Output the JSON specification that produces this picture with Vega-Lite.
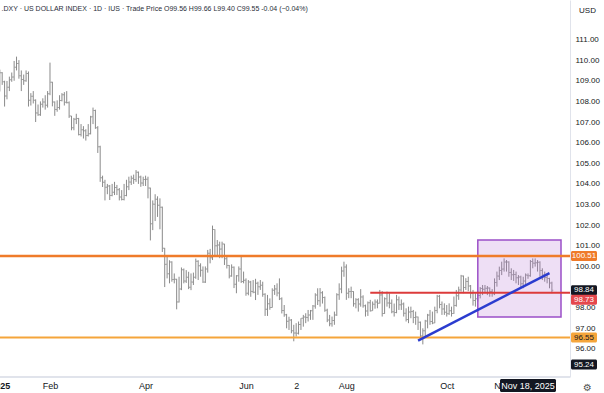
{
"$schema":"https://vega.github.io/schema/vega-lite/v6.json",
"width":570,"height":377,
"autosize":{"type":"none"},
"padding":{"left":0,"top":0,"right":34,"bottom":16},
"background":"#ffffff",
"config":{"view":{"stroke":null},"font":"Liberation Sans","axisY":{"labelOverlap":false}},
"title":{"text":".DXY · US DOLLAR INDEX · 1D · IUS  · Trade Price   O99.56  H99.66  L99.40  C99.55  -0.04 (−0.04%)","anchor":"start","frame":"group","offset":-12,"fontSize":7,"fontWeight":"normal","color":"#2a2e39","font":"Liberation Sans","dx":1.5},
"resolve":{"axis":{"x":"independent","y":"independent"}},
"data":{"values":[
{"d":"2025-01-02","o":108.49,"h":109.54,"l":108.48,"c":109.39},
{"d":"2025-01-03","o":109.39,"h":109.42,"l":108.80,"c":108.95},
{"d":"2025-01-06","o":108.95,"h":109.00,"l":107.75,"c":108.26},
{"d":"2025-01-07","o":108.26,"h":108.99,"l":108.10,"c":108.69},
{"d":"2025-01-08","o":108.69,"h":109.20,"l":108.50,"c":109.05},
{"d":"2025-01-09","o":109.05,"h":109.40,"l":108.95,"c":109.18},
{"d":"2025-01-10","o":109.18,"h":109.96,"l":109.00,"c":109.65},
{"d":"2025-01-13","o":109.65,"h":110.17,"l":109.50,"c":109.84},
{"d":"2025-01-14","o":109.84,"h":110.00,"l":109.10,"c":109.24},
{"d":"2025-01-15","o":109.24,"h":109.50,"l":108.50,"c":109.06},
{"d":"2025-01-16","o":109.06,"h":109.30,"l":108.80,"c":109.00},
{"d":"2025-01-17","o":109.00,"h":109.50,"l":108.95,"c":109.35},
{"d":"2025-01-21","o":109.35,"h":109.45,"l":107.75,"c":108.06},
{"d":"2025-01-22","o":108.06,"h":108.40,"l":107.80,"c":108.25},
{"d":"2025-01-23","o":108.25,"h":108.50,"l":107.90,"c":108.05},
{"d":"2025-01-24","o":108.05,"h":108.10,"l":107.00,"c":107.44},
{"d":"2025-01-27","o":107.44,"h":107.85,"l":107.30,"c":107.35},
{"d":"2025-01-28","o":107.35,"h":108.00,"l":107.30,"c":107.86},
{"d":"2025-01-29","o":107.86,"h":108.15,"l":107.70,"c":107.97},
{"d":"2025-01-30","o":107.97,"h":108.30,"l":107.60,"c":107.81},
{"d":"2025-01-31","o":107.81,"h":108.50,"l":107.70,"c":108.37},
{"d":"2025-02-03","o":108.37,"h":109.88,"l":108.30,"c":108.93},
{"d":"2025-02-04","o":108.93,"h":108.95,"l":107.76,"c":107.97},
{"d":"2025-02-05","o":107.97,"h":108.00,"l":107.30,"c":107.61},
{"d":"2025-02-06","o":107.61,"h":108.05,"l":107.50,"c":107.71},
{"d":"2025-02-07","o":107.71,"h":108.30,"l":107.60,"c":108.04},
{"d":"2025-02-10","o":108.04,"h":108.40,"l":108.00,"c":108.32},
{"d":"2025-02-11","o":108.32,"h":108.45,"l":107.80,"c":107.96},
{"d":"2025-02-12","o":107.96,"h":108.50,"l":107.90,"c":107.94},
{"d":"2025-02-13","o":107.94,"h":108.00,"l":107.20,"c":107.29},
{"d":"2025-02-14","o":107.29,"h":107.30,"l":106.60,"c":106.72},
{"d":"2025-02-18","o":106.72,"h":107.20,"l":106.60,"c":107.14},
{"d":"2025-02-19","o":107.14,"h":107.40,"l":106.90,"c":107.17},
{"d":"2025-02-20","o":107.17,"h":107.20,"l":106.35,"c":106.39},
{"d":"2025-02-21","o":106.39,"h":106.90,"l":106.30,"c":106.63},
{"d":"2025-02-24","o":106.63,"h":106.80,"l":106.20,"c":106.58},
{"d":"2025-02-25","o":106.58,"h":106.65,"l":106.10,"c":106.35},
{"d":"2025-02-26","o":106.35,"h":106.90,"l":106.30,"c":106.43},
{"d":"2025-02-27","o":106.43,"h":107.30,"l":106.40,"c":107.25},
{"d":"2025-02-28","o":107.25,"h":107.70,"l":106.90,"c":107.56},
{"d":"2025-03-03","o":107.56,"h":107.60,"l":106.67,"c":106.72},
{"d":"2025-03-04","o":106.72,"h":106.80,"l":105.50,"c":105.80},
{"d":"2025-03-05","o":105.80,"h":105.85,"l":104.10,"c":104.30},
{"d":"2025-03-06","o":104.30,"h":104.40,"l":103.85,"c":104.08},
{"d":"2025-03-07","o":104.08,"h":104.20,"l":103.20,"c":103.84},
{"d":"2025-03-10","o":103.84,"h":104.00,"l":103.50,"c":103.90},
{"d":"2025-03-11","o":103.90,"h":103.95,"l":103.22,"c":103.44},
{"d":"2025-03-12","o":103.44,"h":104.00,"l":103.40,"c":103.60},
{"d":"2025-03-13","o":103.60,"h":104.10,"l":103.46,"c":103.83},
{"d":"2025-03-14","o":103.83,"h":103.95,"l":103.46,"c":103.72},
{"d":"2025-03-17","o":103.72,"h":103.80,"l":103.20,"c":103.37},
{"d":"2025-03-18","o":103.37,"h":103.70,"l":103.20,"c":103.25},
{"d":"2025-03-19","o":103.25,"h":104.00,"l":103.20,"c":103.44},
{"d":"2025-03-20","o":103.44,"h":104.20,"l":103.40,"c":103.86},
{"d":"2025-03-21","o":103.86,"h":104.35,"l":103.70,"c":104.09},
{"d":"2025-03-24","o":104.09,"h":104.40,"l":103.95,"c":104.27},
{"d":"2025-03-25","o":104.27,"h":104.45,"l":104.00,"c":104.21},
{"d":"2025-03-26","o":104.21,"h":104.67,"l":104.10,"c":104.56},
{"d":"2025-03-27","o":104.56,"h":104.60,"l":104.00,"c":104.33},
{"d":"2025-03-28","o":104.33,"h":104.40,"l":103.86,"c":104.04},
{"d":"2025-03-31","o":104.04,"h":104.35,"l":103.90,"c":104.21},
{"d":"2025-04-01","o":104.21,"h":104.40,"l":103.90,"c":104.23},
{"d":"2025-04-02","o":104.23,"h":104.35,"l":103.30,"c":103.80},
{"d":"2025-04-03","o":103.80,"h":103.82,"l":101.26,"c":102.07},
{"d":"2025-04-04","o":102.07,"h":103.20,"l":101.76,"c":103.02},
{"d":"2025-04-07","o":103.02,"h":103.50,"l":102.20,"c":103.26},
{"d":"2025-04-08","o":103.26,"h":103.40,"l":102.40,"c":102.96},
{"d":"2025-04-09","o":102.96,"h":103.30,"l":101.80,"c":102.87},
{"d":"2025-04-10","o":102.87,"h":102.90,"l":100.70,"c":100.88},
{"d":"2025-04-11","o":100.88,"h":100.90,"l":99.00,"c":100.10},
{"d":"2025-04-14","o":100.10,"h":100.47,"l":99.42,"c":99.65},
{"d":"2025-04-15","o":99.65,"h":100.30,"l":99.18,"c":100.21},
{"d":"2025-04-16","o":100.21,"h":100.25,"l":99.26,"c":99.37},
{"d":"2025-04-17","o":99.37,"h":99.66,"l":99.18,"c":99.38},
{"d":"2025-04-21","o":99.38,"h":99.40,"l":97.92,"c":98.28},
{"d":"2025-04-22","o":98.28,"h":99.50,"l":98.25,"c":98.90},
{"d":"2025-04-23","o":98.90,"h":99.95,"l":98.85,"c":99.84},
{"d":"2025-04-24","o":99.84,"h":99.90,"l":99.18,"c":99.29},
{"d":"2025-04-25","o":99.29,"h":99.82,"l":99.20,"c":99.47},
{"d":"2025-04-28","o":99.47,"h":99.74,"l":98.90,"c":98.99},
{"d":"2025-04-29","o":98.99,"h":99.66,"l":98.85,"c":99.24},
{"d":"2025-04-30","o":99.24,"h":99.70,"l":99.10,"c":99.47},
{"d":"2025-05-01","o":99.47,"h":100.38,"l":99.40,"c":100.25},
{"d":"2025-05-02","o":100.25,"h":100.30,"l":99.34,"c":100.03},
{"d":"2025-05-05","o":100.03,"h":100.15,"l":99.50,"c":99.82},
{"d":"2025-05-06","o":99.82,"h":100.00,"l":99.20,"c":99.24},
{"d":"2025-05-07","o":99.24,"h":100.00,"l":99.20,"c":99.87},
{"d":"2025-05-08","o":99.87,"h":100.80,"l":99.70,"c":100.64},
{"d":"2025-05-09","o":100.64,"h":100.85,"l":100.15,"c":100.42},
{"d":"2025-05-12","o":100.42,"h":101.98,"l":100.31,"c":101.79},
{"d":"2025-05-13","o":101.79,"h":101.80,"l":100.47,"c":101.00},
{"d":"2025-05-14","o":101.00,"h":101.28,"l":100.50,"c":101.04},
{"d":"2025-05-15","o":101.04,"h":101.20,"l":100.40,"c":100.84},
{"d":"2025-05-16","o":100.84,"h":101.20,"l":100.40,"c":101.09},
{"d":"2025-05-19","o":101.09,"h":101.10,"l":100.07,"c":100.37},
{"d":"2025-05-20","o":100.37,"h":100.47,"l":99.90,"c":100.05},
{"d":"2025-05-21","o":100.05,"h":100.07,"l":99.42,"c":99.54},
{"d":"2025-05-22","o":99.54,"h":100.10,"l":99.50,"c":99.96},
{"d":"2025-05-23","o":99.96,"h":100.00,"l":98.95,"c":99.13},
{"d":"2025-05-27","o":99.13,"h":99.58,"l":98.70,"c":99.55},
{"d":"2025-05-28","o":99.55,"h":100.00,"l":99.26,"c":99.88},
{"d":"2025-05-29","o":99.88,"h":100.55,"l":99.20,"c":99.27},
{"d":"2025-05-30","o":99.27,"h":99.75,"l":99.18,"c":99.33},
{"d":"2025-06-02","o":99.33,"h":99.42,"l":98.58,"c":98.70},
{"d":"2025-06-03","o":98.70,"h":99.34,"l":98.60,"c":99.25},
{"d":"2025-06-04","o":99.25,"h":99.30,"l":98.53,"c":98.79},
{"d":"2025-06-05","o":98.79,"h":99.34,"l":98.70,"c":98.75},
{"d":"2025-06-06","o":98.75,"h":99.40,"l":98.37,"c":99.19},
{"d":"2025-06-09","o":99.19,"h":99.26,"l":98.62,"c":99.01},
{"d":"2025-06-10","o":99.01,"h":99.34,"l":98.86,"c":99.09},
{"d":"2025-06-11","o":99.09,"h":99.26,"l":98.53,"c":98.65},
{"d":"2025-06-12","o":98.65,"h":98.70,"l":97.60,"c":97.93},
{"d":"2025-06-13","o":97.93,"h":98.62,"l":97.60,"c":98.19},
{"d":"2025-06-16","o":98.19,"h":98.45,"l":97.90,"c":98.01},
{"d":"2025-06-17","o":98.01,"h":98.94,"l":98.00,"c":98.84},
{"d":"2025-06-18","o":98.84,"h":99.10,"l":98.62,"c":98.91},
{"d":"2025-06-20","o":98.91,"h":99.18,"l":98.55,"c":98.71},
{"d":"2025-06-23","o":98.71,"h":99.42,"l":98.37,"c":98.43},
{"d":"2025-06-24","o":98.43,"h":98.50,"l":97.72,"c":97.86},
{"d":"2025-06-25","o":97.86,"h":98.13,"l":97.56,"c":97.66},
{"d":"2025-06-26","o":97.66,"h":97.70,"l":97.00,"c":97.34},
{"d":"2025-06-27","o":97.34,"h":97.56,"l":96.92,"c":97.40},
{"d":"2025-06-30","o":97.40,"h":97.45,"l":96.76,"c":96.88},
{"d":"2025-07-01","o":96.88,"h":97.17,"l":96.37,"c":96.77},
{"d":"2025-07-02","o":96.77,"h":97.25,"l":96.60,"c":96.76},
{"d":"2025-07-03","o":96.76,"h":97.33,"l":96.70,"c":97.18},
{"d":"2025-07-07","o":97.18,"h":97.49,"l":96.92,"c":97.49},
{"d":"2025-07-08","o":97.49,"h":97.65,"l":97.08,"c":97.55},
{"d":"2025-07-09","o":97.55,"h":97.73,"l":97.25,"c":97.53},
{"d":"2025-07-10","o":97.53,"h":97.89,"l":97.33,"c":97.65},
{"d":"2025-07-11","o":97.65,"h":97.89,"l":97.41,"c":97.85},
{"d":"2025-07-14","o":97.85,"h":98.13,"l":97.41,"c":98.08},
{"d":"2025-07-15","o":98.08,"h":98.70,"l":97.95,"c":98.62},
{"d":"2025-07-16","o":98.62,"h":98.94,"l":98.13,"c":98.34},
{"d":"2025-07-17","o":98.34,"h":98.95,"l":98.05,"c":98.73},
{"d":"2025-07-18","o":98.73,"h":98.80,"l":98.20,"c":98.49},
{"d":"2025-07-21","o":98.49,"h":98.54,"l":97.80,"c":97.88},
{"d":"2025-07-22","o":97.88,"h":97.95,"l":97.30,"c":97.40},
{"d":"2025-07-23","o":97.40,"h":97.65,"l":97.10,"c":97.22},
{"d":"2025-07-24","o":97.22,"h":97.57,"l":97.08,"c":97.38},
{"d":"2025-07-25","o":97.38,"h":97.81,"l":97.17,"c":97.65},
{"d":"2025-07-28","o":97.65,"h":98.70,"l":97.60,"c":98.63},
{"d":"2025-07-29","o":98.63,"h":99.18,"l":98.38,"c":98.90},
{"d":"2025-07-30","o":98.90,"h":99.99,"l":98.70,"c":99.78},
{"d":"2025-07-31","o":99.78,"h":100.23,"l":99.50,"c":99.97},
{"d":"2025-08-01","o":99.97,"h":100.10,"l":98.38,"c":98.70},
{"d":"2025-08-04","o":98.70,"h":98.94,"l":98.46,"c":98.78},
{"d":"2025-08-05","o":98.78,"h":99.02,"l":98.46,"c":98.78},
{"d":"2025-08-06","o":98.78,"h":98.80,"l":98.05,"c":98.19},
{"d":"2025-08-07","o":98.19,"h":98.46,"l":97.97,"c":98.39},
{"d":"2025-08-08","o":98.39,"h":98.46,"l":97.81,"c":98.18},
{"d":"2025-08-11","o":98.18,"h":98.90,"l":98.05,"c":98.52},
{"d":"2025-08-12","o":98.52,"h":98.60,"l":98.00,"c":98.09},
{"d":"2025-08-13","o":98.09,"h":98.15,"l":97.57,"c":97.84},
{"d":"2025-08-14","o":97.84,"h":98.30,"l":97.60,"c":98.24},
{"d":"2025-08-15","o":98.24,"h":98.38,"l":97.81,"c":97.85},
{"d":"2025-08-18","o":97.85,"h":98.30,"l":97.85,"c":98.17},
{"d":"2025-08-19","o":98.17,"h":98.40,"l":97.95,"c":98.28},
{"d":"2025-08-20","o":98.28,"h":98.40,"l":97.97,"c":98.22},
{"d":"2025-08-21","o":98.22,"h":98.86,"l":98.20,"c":98.62},
{"d":"2025-08-22","o":98.62,"h":98.80,"l":97.57,"c":97.72},
{"d":"2025-08-25","o":97.72,"h":98.50,"l":97.70,"c":98.43},
{"d":"2025-08-26","o":98.43,"h":98.78,"l":98.05,"c":98.23},
{"d":"2025-08-27","o":98.23,"h":98.70,"l":97.97,"c":98.22},
{"d":"2025-08-28","o":98.22,"h":98.40,"l":97.73,"c":97.80},
{"d":"2025-08-29","o":97.80,"h":98.20,"l":97.57,"c":97.77},
{"d":"2025-09-02","o":97.77,"h":98.62,"l":97.73,"c":98.39},
{"d":"2025-09-03","o":98.39,"h":98.54,"l":97.89,"c":98.14},
{"d":"2025-09-04","o":98.14,"h":98.40,"l":97.89,"c":98.18},
{"d":"2025-09-05","o":98.18,"h":98.25,"l":97.57,"c":97.73},
{"d":"2025-09-08","o":97.73,"h":97.97,"l":97.33,"c":97.43},
{"d":"2025-09-09","o":97.43,"h":98.05,"l":97.25,"c":97.79},
{"d":"2025-09-10","o":97.79,"h":98.05,"l":97.49,"c":97.81},
{"d":"2025-09-11","o":97.81,"h":97.89,"l":97.25,"c":97.53},
{"d":"2025-09-12","o":97.53,"h":97.81,"l":97.17,"c":97.55},
{"d":"2025-09-15","o":97.55,"h":97.57,"l":96.92,"c":97.30},
{"d":"2025-09-16","o":97.30,"h":97.33,"l":96.55,"c":96.63},
{"d":"2025-09-17","o":96.63,"h":97.00,"l":96.22,"c":96.88},
{"d":"2025-09-18","o":96.88,"h":97.41,"l":96.60,"c":97.35},
{"d":"2025-09-19","o":97.35,"h":97.70,"l":97.00,"c":97.64},
{"d":"2025-09-22","o":97.64,"h":97.89,"l":97.17,"c":97.33},
{"d":"2025-09-23","o":97.33,"h":97.81,"l":97.20,"c":97.26},
{"d":"2025-09-24","o":97.26,"h":98.05,"l":97.25,"c":97.86},
{"d":"2025-09-25","o":97.86,"h":98.62,"l":97.73,"c":98.55},
{"d":"2025-09-26","o":98.55,"h":98.62,"l":97.97,"c":98.15},
{"d":"2025-09-29","o":98.15,"h":98.30,"l":97.65,"c":97.94},
{"d":"2025-09-30","o":97.94,"h":98.21,"l":97.65,"c":97.78},
{"d":"2025-10-01","o":97.78,"h":98.13,"l":97.57,"c":97.71},
{"d":"2025-10-02","o":97.71,"h":98.21,"l":97.65,"c":97.85},
{"d":"2025-10-03","o":97.85,"h":98.05,"l":97.57,"c":97.72},
{"d":"2025-10-06","o":97.72,"h":98.54,"l":97.70,"c":98.11},
{"d":"2025-10-07","o":98.11,"h":98.86,"l":98.05,"c":98.58},
{"d":"2025-10-08","o":98.58,"h":99.02,"l":98.38,"c":98.86},
{"d":"2025-10-09","o":98.86,"h":99.59,"l":98.78,"c":99.53},
{"d":"2025-10-10","o":99.53,"h":99.56,"l":98.70,"c":98.98},
{"d":"2025-10-13","o":98.98,"h":99.43,"l":98.86,"c":99.27},
{"d":"2025-10-14","o":99.27,"h":99.50,"l":98.80,"c":99.05},
{"d":"2025-10-15","o":99.05,"h":99.10,"l":98.45,"c":98.70},
{"d":"2025-10-16","o":98.70,"h":98.86,"l":98.10,"c":98.35},
{"d":"2025-10-17","o":98.35,"h":98.70,"l":98.05,"c":98.43},
{"d":"2025-10-20","o":98.43,"h":98.78,"l":98.30,"c":98.59},
{"d":"2025-10-21","o":98.59,"h":99.00,"l":98.45,"c":98.93},
{"d":"2025-10-22","o":98.93,"h":99.10,"l":98.61,"c":98.89},
{"d":"2025-10-23","o":98.89,"h":99.10,"l":98.70,"c":98.94},
{"d":"2025-10-24","o":98.94,"h":99.05,"l":98.61,"c":98.95},
{"d":"2025-10-27","o":98.95,"h":98.98,"l":98.53,"c":98.78},
{"d":"2025-10-28","o":98.78,"h":98.90,"l":98.53,"c":98.67},
{"d":"2025-10-29","o":98.67,"h":99.42,"l":98.61,"c":99.22},
{"d":"2025-10-30","o":99.22,"h":99.75,"l":99.02,"c":99.53},
{"d":"2025-10-31","o":99.53,"h":99.99,"l":99.34,"c":99.80},
{"d":"2025-11-03","o":99.80,"h":100.23,"l":99.58,"c":99.87},
{"d":"2025-11-04","o":99.87,"h":100.39,"l":99.75,"c":100.21},
{"d":"2025-11-05","o":100.21,"h":100.31,"l":99.75,"c":100.22},
{"d":"2025-11-06","o":100.22,"h":100.25,"l":99.50,"c":99.71},
{"d":"2025-11-07","o":99.71,"h":99.91,"l":99.34,"c":99.60},
{"d":"2025-11-10","o":99.60,"h":99.83,"l":99.30,"c":99.61},
{"d":"2025-11-11","o":99.61,"h":99.75,"l":99.18,"c":99.45},
{"d":"2025-11-12","o":99.45,"h":99.58,"l":99.10,"c":99.49},
{"d":"2025-11-13","o":99.49,"h":99.55,"l":99.00,"c":99.16},
{"d":"2025-11-14","o":99.16,"h":99.50,"l":98.94,"c":99.29},
{"d":"2025-11-17","o":99.29,"h":99.66,"l":99.10,"c":99.59},
{"d":"2025-11-18","o":99.56,"h":99.66,"l":99.40,"c":99.55},
{"d":"2025-11-19","o":99.55,"h":100.31,"l":99.50,"c":100.24},
{"d":"2025-11-20","o":100.24,"h":100.39,"l":99.91,"c":100.16},
{"d":"2025-11-21","o":100.16,"h":100.39,"l":99.99,"c":100.18},
{"d":"2025-11-24","o":100.18,"h":100.31,"l":99.75,"c":100.20},
{"d":"2025-11-25","o":100.20,"h":100.25,"l":99.50,"c":99.80},
{"d":"2025-11-26","o":99.80,"h":99.91,"l":99.34,"c":99.58},
{"d":"2025-11-28","o":99.58,"h":99.75,"l":99.26,"c":99.46},
{"d":"2025-12-01","o":99.46,"h":99.66,"l":99.18,"c":99.41},
{"d":"2025-12-02","o":99.41,"h":99.45,"l":98.94,"c":99.20},
{"d":"2025-12-03","o":99.20,"h":99.26,"l":98.70,"c":98.84}
]},
"layer":[
{"mark":{"type":"rule","color":"#8a8a8a","strokeWidth":1},
 "encoding":{
  "x":{"field":"d","type":"ordinal","sort":"ascending","scale":{"type":"point","range":[-0.2,551.9],"padding":0},
   "axis":{"values":["2025-01-02","2025-02-03","2025-04-01","2025-06-02","2025-07-02","2025-08-01","2025-10-01","2025-11-03"],
    "labelExpr":"datum.value=='2025-01-02'?'2025':datum.value=='2025-02-03'?'Feb':datum.value=='2025-04-01'?'Apr':datum.value=='2025-06-02'?'Jun':datum.value=='2025-07-02'?'2':datum.value=='2025-08-01'?'Aug':datum.value=='2025-10-01'?'Oct':'Nov'",
    "labelAngle":0,"labelFontSize":9,"labelColor":"#131722","labelPadding":4,"labelFontWeight":{"condition":{"test":"datum.value=='2025-01-02'","value":"bold"},"value":"normal"},
    "ticks":false,"domain":false,"grid":false,"labelOverlap":false,
    "title":"⚙","titleFont":"DejaVu Sans","titleFontSize":10,"titleFontWeight":"normal","titleColor":"#555555","titleX":587,"titleY":13,"titleAnchor":null,"titleAlign":"center","titleBaseline":"alphabetic"}},
  "y":{"field":"l","type":"quantitative","scale":{"domain":[94.64,112.915],"nice":false,"zero":false},
   "axis":{"orient":"right","values":[96,97,98,100,101,102,103,104,105,106,107,108,109,110,111],"format":".2f","labelFontSize":8,"labelColor":"#131722","labelPadding":5,"labelOverlap":false,"ticks":false,"domain":true,"domainColor":"#e0e3eb","grid":false,
    "title":"USD","titleAngle":0,"titleX":17,"titleY":12,"titleAlign":"center","titleBaseline":"alphabetic","titleFontSize":8,"titleFontWeight":"normal","titleColor":"#131722"}},
  "y2":{"field":"h"}}},
{"mark":{"type":"tick","orient":"horizontal","size":1.2,"thickness":1,"xOffset":-0.8,"color":"#8a8a8a"},
 "encoding":{"x":{"field":"d","type":"ordinal","axis":null},"y":{"field":"o","type":"quantitative","axis":null}}},
{"mark":{"type":"tick","orient":"horizontal","size":1.2,"thickness":1,"xOffset":0.8,"color":"#8a8a8a"},
 "encoding":{"x":{"field":"d","type":"ordinal","axis":null},"y":{"field":"c","type":"quantitative","axis":null}}},
{"data":{"values":[{"d":"2025-10-20","top":101.28,"bot":97.55}]},
 "mark":{"type":"rect","fill":"#b06cd0","fillOpacity":0.22,"stroke":"#9b4fc7","strokeWidth":1.5,"x2Offset":-9},
 "encoding":{"x":{"field":"d","type":"ordinal","axis":null},"x2":{"value":"width"},"y":{"field":"top","type":"quantitative","axis":null},"y2":{"field":"bot"}}},
{"data":{"values":[{"p":100.51}]},
 "mark":{"type":"rule","color":"#ef7b2a","strokeWidth":2.5},
 "encoding":{"y":{"field":"p","type":"quantitative","axis":null}}},
{"data":{"values":[{"p":96.55}]},
 "mark":{"type":"rule","color":"#f5a53b","strokeWidth":2},
 "encoding":{"y":{"field":"p","type":"quantitative","axis":null}}},
{"data":{"values":[{"d":"2025-08-15","p":98.73}]},
 "mark":{"type":"rule","color":"#dc3b3b","strokeWidth":2},
 "encoding":{"x":{"field":"d","type":"ordinal","axis":null},"x2":{"value":"width"},"y":{"field":"p","type":"quantitative","axis":null}}},
{"data":{"values":[{"d":"2025-09-15","p":96.40},{"d":"2025-12-02","p":99.68}]},
 "mark":{"type":"line","color":"#2b3ccf","strokeWidth":2.5},
 "encoding":{"x":{"field":"d","type":"ordinal","axis":null},"y":{"field":"p","type":"quantitative","axis":null}}},
{"mark":{"type":"rule","color":"#e0e3eb","strokeWidth":1},
 "encoding":{"y":{"value":"height"}}},
{"data":{"values":[{"t":"100.51","p":100.51,"k":"Resistance"},{"t":"98.84","p":98.84,"k":"Last"},{"t":"96.55","p":96.55,"k":"Support"},{"t":"95.24","p":95.24,"k":"Cursor"}]},
 "layer":[
  {"mark":{"type":"rect","xOffset":1,"x2Offset":27,"yOffset":-5,"y2Offset":5,"cornerRadius":1.5,"clip":false},
   "encoding":{"x":{"value":"width"},"x2":{"value":"width"},"y":{"field":"p","type":"quantitative","axis":null},"y2":{"field":"p"},
    "fill":{"condition":[{"test":"datum.k=='Resistance'","value":"#ef7b2a"},{"test":"datum.k=='Support'","value":"#f5a53b"}],"value":"#131722"}}},
  {"mark":{"type":"text","xOffset":14,"fontSize":8,"align":"center","baseline":"middle","clip":false},
   "encoding":{"x":{"value":"width"},"y":{"field":"p","type":"quantitative","axis":null},"text":{"field":"t"},
    "color":{"condition":{"test":"datum.k=='Support'","value":"#131722"},"value":"#ffffff"}}}
 ]},
{"data":{"values":[{"t":"98.73","p":98.73}]},
 "layer":[
  {"mark":{"type":"rect","xOffset":1,"x2Offset":27,"yOffset":2,"y2Offset":12,"cornerRadius":1.5,"fill":"#e5484d","clip":false},
   "encoding":{"x":{"value":"width"},"x2":{"value":"width"},"y":{"field":"p","type":"quantitative","axis":null},"y2":{"field":"p"}}},
  {"mark":{"type":"text","xOffset":14,"yOffset":7,"fontSize":8,"align":"center","baseline":"middle","color":"#ffffff","clip":false},
   "encoding":{"x":{"value":"width"},"y":{"field":"p","type":"quantitative","axis":null},"text":{"field":"t"}}}
 ]},
{"data":{"values":[{"d":"2025-11-18","t":"Nov 18, 2025"}]},
 "layer":[
  {"mark":{"type":"rect","xOffset":-28,"x2Offset":28,"yOffset":2,"y2Offset":15,"fill":"#131722","cornerRadius":1.5,"clip":false},
   "encoding":{"x":{"field":"d","type":"ordinal","axis":null},"x2":{"field":"d"},"y":{"value":"height"},"y2":{"value":"height"}}},
  {"mark":{"type":"text","yOffset":8.5,"fontSize":9,"align":"center","baseline":"middle","color":"#ffffff","clip":false},
   "encoding":{"x":{"field":"d","type":"ordinal","axis":null},"y":{"value":"height"},"text":{"field":"t"}}}
 ]}
]
}
